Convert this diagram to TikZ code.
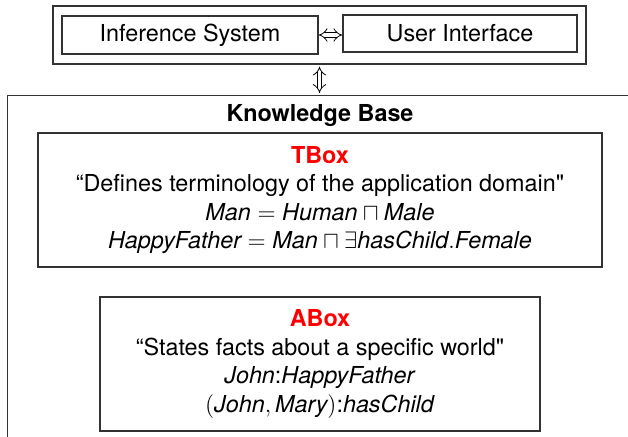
\documentclass[tikz,border=0pt]{standalone}
\usepackage{amsmath}
\usepackage{amssymb}
\usepackage{fontspec}
\setmainfont{TeX Gyre Heros}
\usepackage{tikz}
\usetikzlibrary{arrows.meta}

\begin{document}
\begin{tikzpicture}[x=0.505pt,y=-0.505pt,
  font=\fontsize{11.8}{14.4}\selectfont,
  box/.style={draw=black!80,line width=0.6pt,inner sep=0pt,align=center},
  twoway/.style={double,double distance=2pt,line width=0.4pt,{Implies}-{Implies}}]
\useasboundingbox (0,0) rectangle (628,437);
\clip (0,0) rectangle (628,437);
% front end
\node[box,minimum width=269.2pt,minimum height=29.3pt] (front) at (319.5,35) {};
\node[box,minimum width=129.3pt,minimum height=19.2pt] (inf) at (190,35) {Inference System};
\node[box,minimum width=118.2pt,minimum height=18.7pt] (ui) at (460,33.5) {User Interface};
\draw[twoway] (inf.east) -- (ui.west |- inf.east);
% knowledge base
\node[box,anchor=north west,minimum width=330pt,minimum height=185pt] (kb) at (7,95) {};
\draw[twoway,shorten <=1pt,shorten >=1pt] (front.south) -- (front.south |- kb.north);
\node[font=\fontsize{11.8}{14.4}\selectfont\bfseries] (kbtitle) at (320,116) {Knowledge Base};
\node[box,minimum width=284.8pt,minimum height=67.7pt] (tbox) at (320,200) {%
  {\color{red}\bfseries TBox}\\
  “Defines terminology of the application domain\textquotedbl\\
  $\textit{Man} = \textit{Human} \sqcap \textit{Male}$\\
  $\textit{HappyFather} = \textit{Man} \sqcap \exists\textit{hasChild}.\textit{Female}$};
\node[box,minimum width=222.2pt,minimum height=67.7pt] (abox) at (320,364) {%
  {\color{red}\bfseries ABox}\\
  “States facts about a specific world\textquotedbl\\
  \textit{John}:\textit{HappyFather}\\
  $(\textit{John}, \textit{Mary})$:\textit{hasChild}};
\end{tikzpicture}
\end{document}
